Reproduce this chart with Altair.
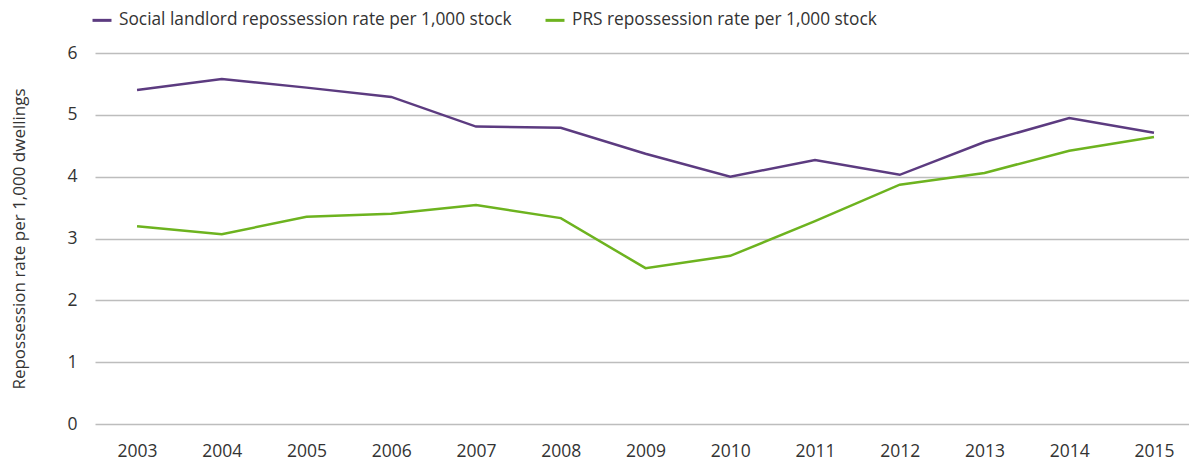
import altair as alt
import pandas as pd

years = [2003, 2004, 2005, 2006, 2007, 2008, 2009, 2010, 2011, 2012, 2013, 2014, 2015]
social = [5.40, 5.58, 5.44, 5.29, 4.81, 4.79, 4.37, 4.00, 4.27, 4.03, 4.56, 4.95, 4.71]
prs = [3.20, 3.07, 3.35, 3.40, 3.54, 3.33, 2.52, 2.72, 3.28, 3.87, 4.06, 4.42, 4.64]
s1 = "Social landlord repossession rate per 1,000 stock"
s2 = "PRS repossession rate per 1,000 stock"

rows = []
for y, a, b in zip(years, social, prs):
    rows.append({"year": y, "series": s1, "value": a})
    rows.append({"year": y, "series": s2, "value": b})
df = pd.DataFrame(rows)

font = "Open Sans"

chart = alt.Chart(df).mark_line(strokeWidth=2.5).encode(
    x=alt.X("year:Q", title=None,
            scale=alt.Scale(domain=[2002.504, 2015.413], nice=False, zero=False),
            axis=alt.Axis(values=years, format="d", labelAngle=0, domain=False, ticks=False,
                          grid=False, labelFlush=False, labelOverlap=False,
                          labelPadding=18, labelFontSize=17.5, labelColor="#333333", labelFont=font)),
    y=alt.Y("value:Q", title="Repossession rate per 1,000 dwellings",
            scale=alt.Scale(domain=[0, 6], nice=False),
            axis=alt.Axis(values=[0, 1, 2, 3, 4, 5, 6], domain=False, ticks=False,
                          gridColor="#bdbdbd", gridWidth=1.5,
                          labelPadding=18, labelFontSize=17.5, labelColor="#333333", labelFont=font,
                          titleFontSize=17, titleFontWeight="normal", titleColor="#333333",
                          titleFont=font, titlePadding=38)),
    color=alt.Color("series:N", sort=[s1, s2],
                    scale=alt.Scale(domain=[s1, s2], range=["#5c3b80", "#6db31f"]),
                    legend=alt.Legend(title=None, orient="none", legendX=-4, legendY=-44,
                                      direction="horizontal", symbolType="stroke",
                                      symbolStrokeWidth=3, symbolSize=360, labelLimit=0,
                                      labelFontSize=17.3, labelFont=font, labelColor="#333333",
                                      columnPadding=27, labelOffset=6)),
).properties(
    width=1094, height=371,
    autosize=alt.AutoSizeParams(type="none"),
    padding={"left": 87, "top": 45, "right": 0, "bottom": 36},
).configure_view(stroke=None)

chart.save("out.html", embed_options={"renderer": "svg", "actions": False})
